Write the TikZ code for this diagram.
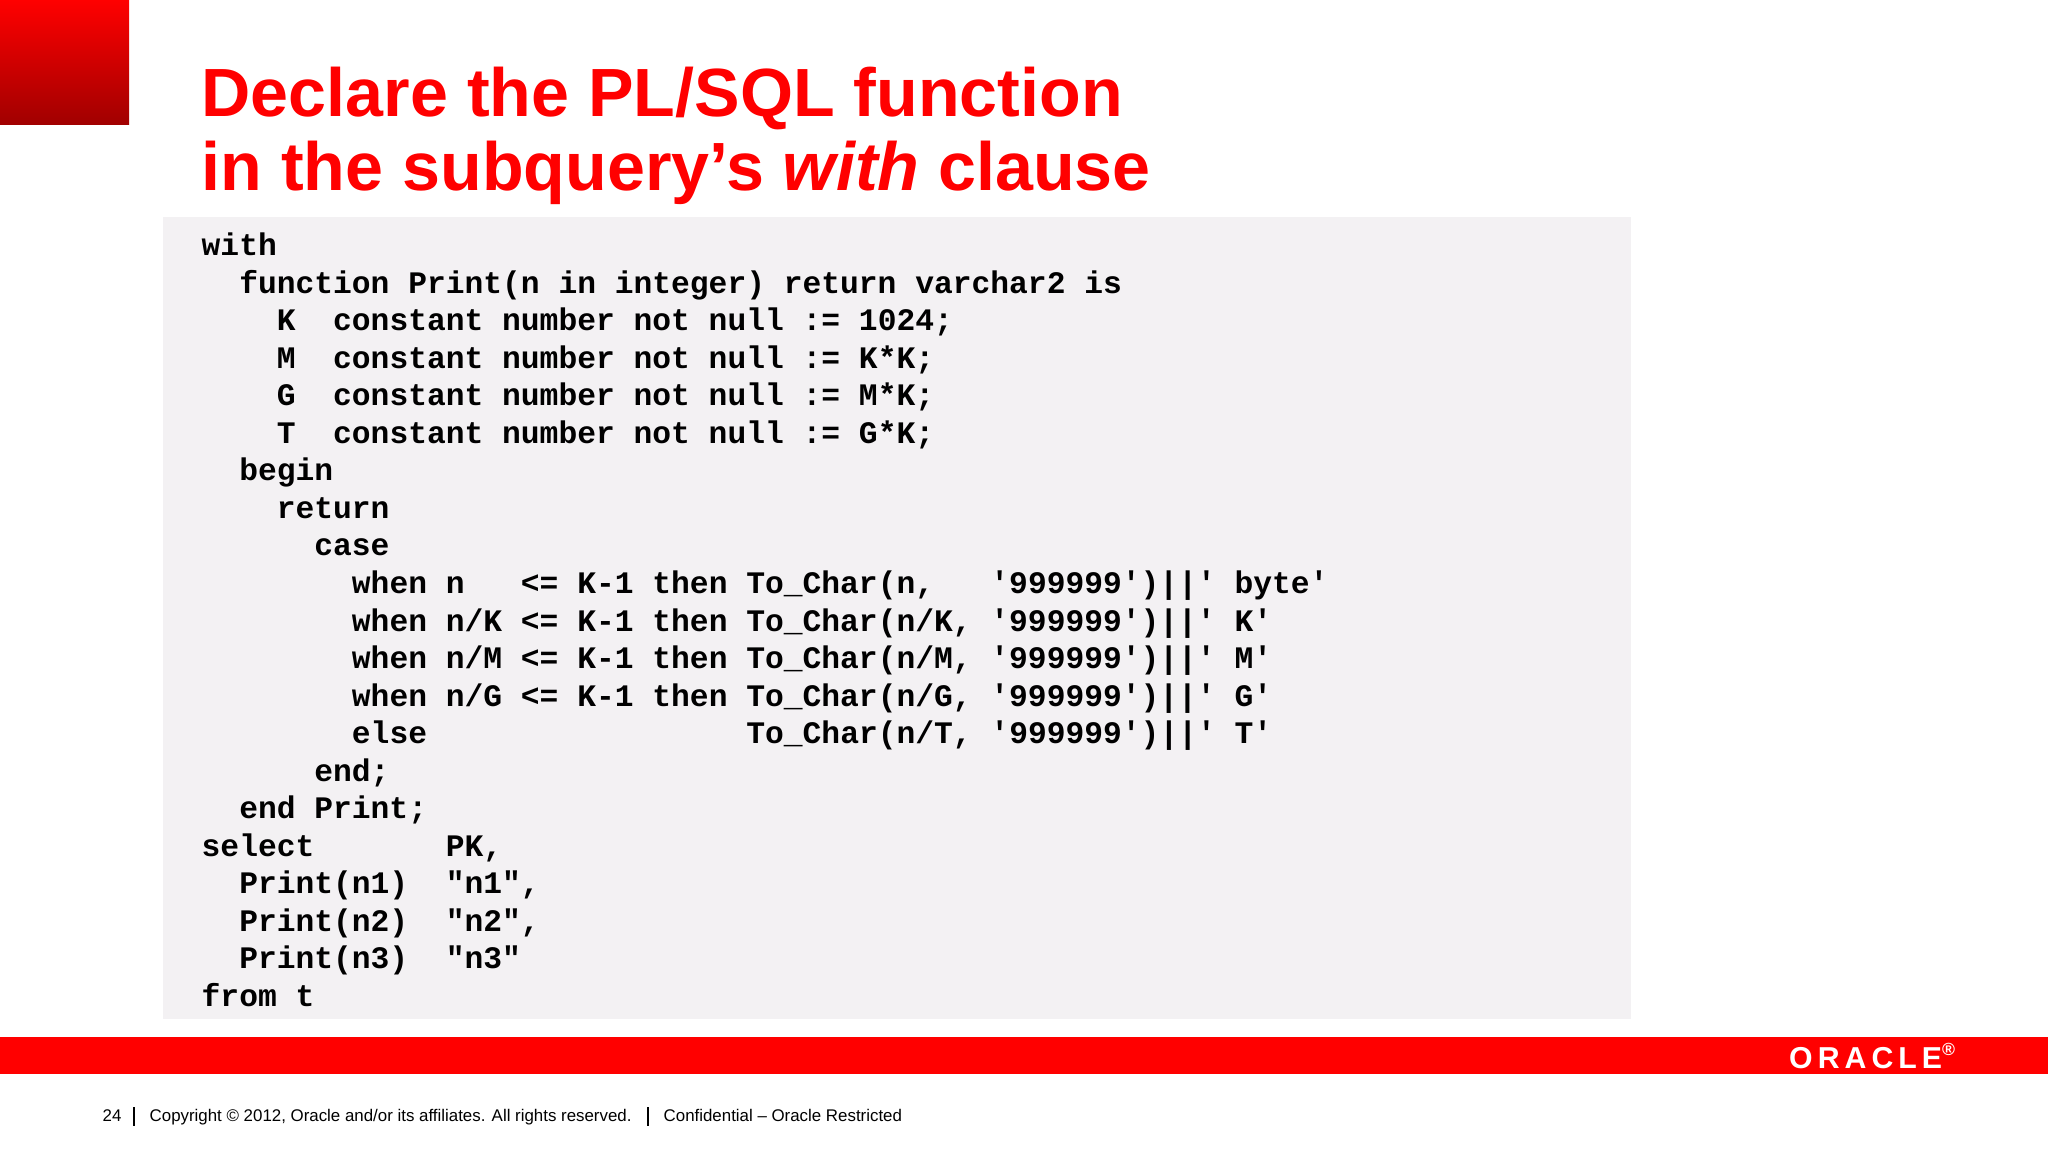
\documentclass[tikz,border=0pt]{standalone}
\usepackage{fontspec}
\setmainfont{Liberation Sans}
\newfontfamily\code{Liberation Mono}
\definecolor{orared}{HTML}{FF0000}
\definecolor{darkred}{HTML}{A00000}
\definecolor{codebg}{HTML}{F3F1F3}
\begin{document}
\begin{tikzpicture}[x=0.01cm,y=-0.01cm,
  cl/.style={anchor=base west,inner sep=0pt,font=\code\bfseries\fontsize{8.9}{10}\selectfont,text=black},
  tl/.style={anchor=base west,inner sep=0pt,font=\bfseries\fontsize{19.4}{24}\selectfont,text=orared},
  ft/.style={anchor=base west,inner sep=0pt,font=\fontsize{4.8}{6}\selectfont,text=black}]
\useasboundingbox[fill=white] (0,0) rectangle (2048,1152);
\shade[top color=orared,bottom color=darkred] (0,0) rectangle (129,125);
\node[tl] (t1) at (201,117) {Declare the PL/SQL function};
\node[tl] (t2) at (201,191) {in the subquery’s \textit{with} clause};
\fill[codebg] (163,217) rectangle (1631,1019);
\def\ls{37.5}
\node[cl] (c0) at (201,256) {with};
\node[cl] (c1) at (201,256+1*\ls) {~~function~Print(n~in~integer)~return~varchar2~is};
\node[cl] (c2) at (201,256+2*\ls) {~~~~K~~constant~number~not~null~:=~1024;};
\node[cl] (c3) at (201,256+3*\ls) {~~~~M~~constant~number~not~null~:=~K*K;};
\node[cl] (c4) at (201,256+4*\ls) {~~~~G~~constant~number~not~null~:=~M*K;};
\node[cl] (c5) at (201,256+5*\ls) {~~~~T~~constant~number~not~null~:=~G*K;};
\node[cl] (c6) at (201,256+6*\ls) {~~begin};
\node[cl] (c7) at (201,256+7*\ls) {~~~~return};
\node[cl] (c8) at (201,256+8*\ls) {~~~~~~case};
\node[cl] (c9) at (201,256+9*\ls) {~~~~~~~~when~n~~~<=~K-1~then~To\_Char(n,~~~'999999')||'~byte'};
\node[cl] (c10) at (201,256+10*\ls) {~~~~~~~~when~n/K~<=~K-1~then~To\_Char(n/K,~'999999')||'~K'};
\node[cl] (c11) at (201,256+11*\ls) {~~~~~~~~when~n/M~<=~K-1~then~To\_Char(n/M,~'999999')||'~M'};
\node[cl] (c12) at (201,256+12*\ls) {~~~~~~~~when~n/G~<=~K-1~then~To\_Char(n/G,~'999999')||'~G'};
\node[cl] (c13) at (201,256+13*\ls) {~~~~~~~~else~~~~~~~~~~~~~~~~~To\_Char(n/T,~'999999')||'~T'};
\node[cl] (c14) at (201,256+14*\ls) {~~~~~~end;};
\node[cl] (c15) at (201,256+15*\ls) {~~end~Print;};
\node[cl] (c16) at (201,256+16*\ls) {select~~~~~~~PK,};
\node[cl] (c17) at (201,256+17*\ls) {~~Print(n1)~~"n1",};
\node[cl] (c18) at (201,256+18*\ls) {~~Print(n2)~~"n2",};
\node[cl] (c19) at (201,256+19*\ls) {~~Print(n3)~~"n3"};
\node[cl] (c20) at (201,256+20*\ls) {from~t};
\fill[orared] (0,1037) rectangle (2048,1074);
\node[anchor=center,inner sep=0pt,text=white,font=\bfseries\fontsize{8.6}{10}\selectfont] (logo) at (1873,1056) {O\,R\,A\,C\,L\,E\textsuperscript{\tiny®}};
\node[ft] (f1) at (102,1121) {24};
\node[ft] (f2) at (149,1121) {Copyright © 2012, Oracle and/or its affiliates. All rights reserved.};
\node[ft] (f3) at (663,1121) {Confidential – Oracle Restricted};
\draw[black,line width=0.3pt] (134,1107) -- (134,1126);
\draw[black,line width=0.3pt] (648,1107) -- (648,1126);
\end{tikzpicture}
\end{document}
